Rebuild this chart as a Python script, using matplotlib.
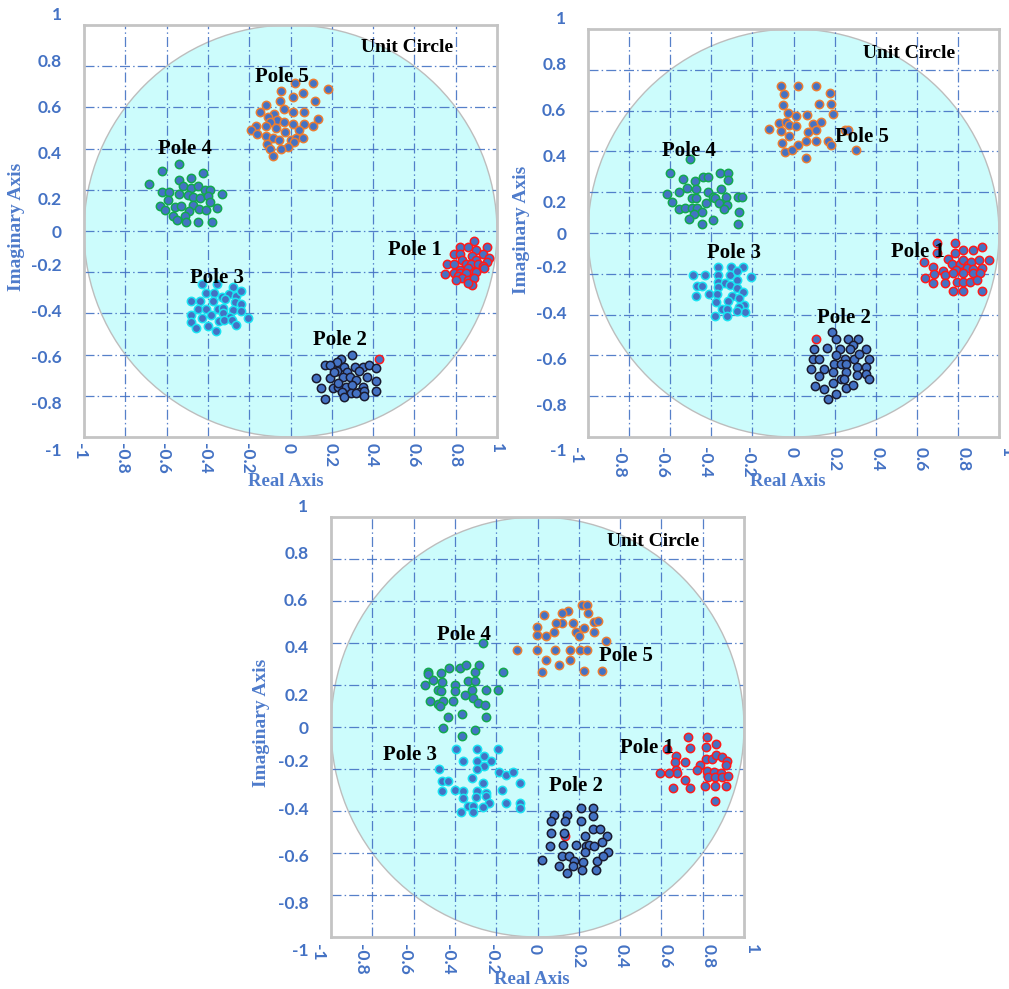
import numpy as np
import matplotlib
matplotlib.use("Agg")
import matplotlib.pyplot as plt
from matplotlib.patches import Circle

# pole locations (real, imag) for the three runs
run1_pole1 = [(0.89, -0.05), (0.82, -0.08), (0.86, -0.08), (0.95, -0.08), (0.79, -0.11), (0.82, -0.11),
              (0.90, -0.09), (0.93, -0.11), (0.88, -0.12), (0.83, -0.14), (0.90, -0.14), (0.96, -0.13),
              (0.95, -0.15), (0.76, -0.16), (0.79, -0.16), (0.85, -0.16), (0.875, -0.16), (0.91, -0.16),
              (0.93, -0.17), (0.82, -0.19), (0.86, -0.18), (0.89, -0.20), (0.935, -0.18), (0.75, -0.21),
              (0.79, -0.205), (0.82, -0.205), (0.85, -0.205), (0.90, -0.20), (0.81, -0.22), (0.83, -0.23),
              (0.86, -0.24), (0.89, -0.23), (0.80, -0.24), (0.88, -0.26), (0.86, -0.25), (0.43, -0.62)]
run1_pole2 = [(0.30, -0.60), (0.245, -0.62), (0.224, -0.636), (0.165, -0.65), (0.19, -0.65), (0.258, -0.66),
              (0.31, -0.66), (0.35, -0.66), (0.378, -0.65), (0.226, -0.68), (0.274, -0.684), (0.334, -0.678),
              (0.415, -0.667), (0.124, -0.712), (0.19, -0.712), (0.253, -0.707), (0.289, -0.71),
              (0.318, -0.723), (0.37, -0.707), (0.415, -0.73), (0.147, -0.76), (0.205, -0.76),
              (0.228, -0.756), (0.27, -0.757), (0.30, -0.748), (0.35, -0.756), (0.247, -0.78),
              (0.295, -0.786), (0.334, -0.78), (0.358, -0.775), (0.413, -0.775), (0.166, -0.814),
              (0.257, -0.807), (0.318, -0.785), (0.354, -0.80), (0.228, -0.74), (0.213, -0.683)]
run1_pole3 = [(-0.43, -0.257), (-0.355, -0.257), (-0.28, -0.27), (-0.41, -0.30), (-0.37, -0.30), (-0.33, -0.32),
              (-0.30, -0.306), (-0.266, -0.315), (-0.24, -0.29), (-0.484, -0.34), (-0.44, -0.34),
              (-0.373, -0.34), (-0.315, -0.33), (-0.27, -0.343), (-0.24, -0.354), (-0.45, -0.38),
              (-0.41, -0.38), (-0.35, -0.38), (-0.328, -0.375), (-0.28, -0.383), (-0.24, -0.39),
              (-0.484, -0.41), (-0.43, -0.42), (-0.384, -0.41), (-0.328, -0.40), (-0.295, -0.416),
              (-0.344, -0.435), (-0.32, -0.433), (-0.284, -0.43), (-0.207, -0.42), (-0.484, -0.44),
              (-0.40, -0.46), (-0.46, -0.47), (-0.363, -0.485), (-0.266, -0.456)]
run1_pole4 = [(-0.54, 0.325), (-0.62, 0.29), (-0.425, 0.28), (-0.54, 0.25), (-0.48, 0.255), (-0.686, 0.23),
              (-0.52, 0.22), (-0.48, 0.21), (-0.45, 0.22), (-0.62, 0.19), (-0.586, 0.19), (-0.54, 0.18),
              (-0.495, 0.175), (-0.415, 0.20), (-0.39, 0.20), (-0.33, 0.18), (-0.594, 0.15), (-0.473, 0.167),
              (-0.436, 0.16), (-0.40, 0.17), (-0.63, 0.12), (-0.557, 0.118), (-0.53, 0.12), (-0.473, 0.126),
              (-0.39, 0.14), (-0.607, 0.10), (-0.49, 0.096), (-0.445, 0.105), (-0.41, 0.10), (-0.355, 0.11),
              (-0.57, 0.073), (-0.51, 0.073), (-0.55, 0.053), (-0.447, 0.045), (-0.378, 0.045), (-0.505, 0.042)]
run1_pole5 = [(0.02, 0.72), (0.11, 0.72), (0.18, 0.69), (-0.045, 0.68), (0.06, 0.67), (0.01, 0.65), (0.12, 0.63),
              (-0.05, 0.63), (-0.12, 0.61), (-0.03, 0.59), (0.01, 0.58), (0.065, 0.58), (-0.15, 0.58),
              (-0.08, 0.57), (-0.11, 0.555), (-0.066, 0.54), (-0.03, 0.53), (0.134, 0.545), (-0.10, 0.53),
              (0.013, 0.52), (0.066, 0.52), (-0.12, 0.51), (-0.166, 0.51), (-0.068, 0.50), (-0.19, 0.49),
              (0.11, 0.51), (-0.026, 0.48), (0.039, 0.49), (-0.163, 0.47), (-0.118, 0.46), (-0.085, 0.45),
              (-0.057, 0.44), (0.0, 0.44), (0.029, 0.45), (0.06, 0.45), (0.019, 0.43), (-0.116, 0.42),
              (-0.01, 0.41), (-0.045, 0.40), (-0.10, 0.40), (-0.085, 0.365)]

run2_pole1 = [(0.697, -0.051), (0.70, -0.10), (0.787, -0.051), (0.786, -0.10), (0.826, -0.083), (0.875, -0.083),
              (0.916, -0.067), (0.637, -0.144), (0.68, -0.165), (0.75, -0.129), (0.77, -0.154), (0.81, -0.152),
              (0.826, -0.132), (0.848, -0.157), (0.864, -0.144), (0.901, -0.132), (0.953, -0.132),
              (0.729, -0.185), (0.791, -0.181), (0.843, -0.17), (0.875, -0.178), (0.919, -0.173),
              (0.64, -0.219), (0.684, -0.201), (0.739, -0.206), (0.778, -0.198), (0.826, -0.195),
              (0.872, -0.195), (0.907, -0.198), (0.794, -0.239), (0.826, -0.242), (0.859, -0.239),
              (0.891, -0.23), (0.68, -0.247), (0.737, -0.247), (0.778, -0.284), (0.826, -0.284),
              (0.919, -0.283), (0.109, -0.518)]
run2_pole2 = [(0.186, -0.485), (0.208, -0.52), (0.267, -0.52), (0.315, -0.52), (0.29, -0.549), (0.101, -0.567),
              (0.163, -0.564), (0.226, -0.57), (0.275, -0.57), (0.351, -0.57), (0.207, -0.598), (0.096, -0.619),
              (0.126, -0.618), (0.251, -0.619), (0.294, -0.619), (0.317, -0.595), (0.369, -0.619),
              (0.196, -0.644), (0.231, -0.642), (0.257, -0.642), (0.085, -0.667), (0.15, -0.668),
              (0.191, -0.68), (0.254, -0.68), (0.31, -0.659), (0.353, -0.659), (0.124, -0.699), (0.353, -0.69),
              (0.23, -0.717), (0.247, -0.717), (0.309, -0.696), (0.369, -0.714), (0.194, -0.737),
              (0.103, -0.75), (0.148, -0.766), (0.254, -0.761), (0.288, -0.747), (0.208, -0.788),
              (0.166, -0.814)]
run2_pole3 = [(-0.369, -0.168), (-0.306, -0.168), (-0.244, -0.168), (-0.488, -0.206), (-0.431, -0.206),
              (-0.369, -0.206), (-0.309, -0.206), (-0.273, -0.186), (-0.207, -0.217), (-0.471, -0.26),
              (-0.444, -0.26), (-0.366, -0.239), (-0.333, -0.247), (-0.309, -0.255), (-0.276, -0.23),
              (-0.366, -0.263), (-0.273, -0.271), (-0.244, -0.291), (-0.474, -0.309), (-0.41, -0.30),
              (-0.374, -0.30), (-0.301, -0.307), (-0.265, -0.317), (-0.377, -0.337), (-0.32, -0.332),
              (-0.241, -0.353), (-0.348, -0.374), (-0.322, -0.374), (-0.265, -0.361), (-0.236, -0.389),
              (-0.276, -0.382), (-0.384, -0.408), (-0.325, -0.408)]
run2_pole4 = [(-0.502, 0.364), (-0.60, 0.294), (-0.538, 0.265), (-0.478, 0.255), (-0.439, 0.276), (-0.418, 0.273),
              (-0.358, 0.293), (-0.317, 0.294), (-0.319, 0.26), (-0.517, 0.222), (-0.476, 0.214),
              (-0.351, 0.216), (-0.617, 0.191), (-0.556, 0.203), (-0.496, 0.173), (-0.476, 0.17), (-0.415, 0.2),
              (-0.39, 0.176), (-0.382, 0.17), (-0.327, 0.175), (-0.269, 0.175), (-0.252, 0.175), (-0.59, 0.15),
              (-0.424, 0.149), (-0.363, 0.149), (-0.556, 0.119), (-0.526, 0.123), (-0.496, 0.124),
              (-0.468, 0.124), (-0.325, 0.137), (-0.337, 0.116), (-0.447, 0.101), (-0.483, 0.092),
              (-0.267, 0.101), (-0.507, 0.07), (-0.39, 0.064), (-0.445, 0.044), (-0.269, 0.044)]
run2_pole5 = [(-0.061, 0.72), (0.023, 0.72), (0.109, 0.72), (0.179, 0.688), (-0.045, 0.68), (-0.05, 0.627),
              (0.122, 0.632), (0.181, 0.632), (-0.027, 0.587), (0.014, 0.575), (0.064, 0.58), (0.192, 0.583),
              (-0.069, 0.538), (-0.036, 0.543), (-0.022, 0.53), (0.014, 0.525), (0.093, 0.534), (0.135, 0.543),
              (-0.119, 0.51), (-0.062, 0.50), (0.069, 0.495), (0.111, 0.505), (-0.022, 0.475), (-0.054, 0.44),
              (0.02, 0.431), (0.059, 0.451), (0.111, 0.451), (0.166, 0.451), (0.182, 0.43), (-0.043, 0.397),
              (-0.007, 0.407), (0.062, 0.369), (0.25, 0.503), (0.267, 0.503), (0.306, 0.407)]

run3_pole1 = [(0.73, -0.048), (0.822, -0.048), (0.739, -0.099), (0.816, -0.096), (0.863, -0.083), (0.629, -0.104),
              (0.669, -0.14), (0.664, -0.167), (0.714, -0.167), (0.816, -0.152), (0.843, -0.152),
              (0.866, -0.131), (0.895, -0.144), (0.919, -0.163), (0.911, -0.179), (0.787, -0.183),
              (0.771, -0.204), (0.819, -0.21), (0.855, -0.215), (0.887, -0.218), (0.671, -0.204),
              (0.677, -0.218), (0.593, -0.218), (0.637, -0.218), (0.713, -0.25), (0.827, -0.239),
              (0.86, -0.239), (0.892, -0.239), (0.921, -0.231), (0.658, -0.291), (0.739, -0.291),
              (0.81, -0.279), (0.86, -0.279), (0.911, -0.279), (0.86, -0.35), (0.133, -0.517)]
run3_pole2 = [(0.209, -0.385), (0.27, -0.385), (0.081, -0.417), (0.144, -0.417), (0.27, -0.423), (0.064, -0.448),
              (0.132, -0.448), (0.209, -0.448), (0.27, -0.485), (0.303, -0.485), (0.064, -0.504),
              (0.128, -0.504), (0.23, -0.517), (0.338, -0.517), (0.059, -0.567), (0.122, -0.564),
              (0.185, -0.564), (0.235, -0.567), (0.251, -0.564), (0.274, -0.567), (0.314, -0.548),
              (0.232, -0.596), (0.341, -0.593), (0.023, -0.633), (0.12, -0.615), (0.151, -0.615),
              (0.177, -0.636), (0.219, -0.644), (0.287, -0.64), (0.319, -0.615), (0.106, -0.664),
              (0.17, -0.664), (0.214, -0.679), (0.285, -0.679), (0.144, -0.696)]
run3_pole3 = [(-0.396, -0.104), (-0.295, -0.104), (-0.193, -0.104), (-0.359, -0.164), (-0.291, -0.164),
              (-0.258, -0.14), (-0.227, -0.164), (-0.258, -0.187), (-0.295, -0.202), (-0.475, -0.202),
              (-0.188, -0.212), (-0.153, -0.228), (-0.117, -0.215), (-0.319, -0.244), (-0.461, -0.258),
              (-0.433, -0.258), (-0.262, -0.267), (-0.085, -0.267), (-0.40, -0.298), (-0.359, -0.306),
              (-0.291, -0.307), (-0.251, -0.313), (-0.173, -0.298), (-0.461, -0.307), (-0.359, -0.339),
              (-0.299, -0.331), (-0.251, -0.328), (-0.235, -0.361), (-0.335, -0.374), (-0.311, -0.374),
              (-0.264, -0.379), (-0.153, -0.361), (-0.085, -0.36), (-0.085, -0.387), (-0.372, -0.407),
              (-0.311, -0.407)]
run3_pole4 = [(-0.266, 0.399), (-0.529, 0.264), (-0.532, 0.253), (-0.467, 0.255), (-0.427, 0.28), (-0.375, 0.279),
              (-0.346, 0.294), (-0.303, 0.264), (-0.282, 0.296), (-0.169, 0.263), (-0.505, 0.225),
              (-0.464, 0.213), (-0.546, 0.202), (-0.40, 0.202), (-0.338, 0.218), (-0.303, 0.218),
              (-0.483, 0.174), (-0.467, 0.171), (-0.40, 0.171), (-0.316, 0.177), (-0.251, 0.177),
              (-0.19, 0.177), (-0.519, 0.126), (-0.48, 0.11), (-0.459, 0.126), (-0.411, 0.126),
              (-0.351, 0.153), (-0.314, 0.139), (-0.287, 0.115), (-0.253, 0.106), (-0.472, 0.098),
              (-0.432, 0.047), (-0.364, 0.063), (-0.251, 0.047), (-0.459, -0.004), (-0.301, -0.012),
              (-0.364, -0.045)]
run3_pole5 = [(0.214, 0.582), (0.238, 0.582), (0.146, 0.552), (0.117, 0.542), (0.033, 0.531), (0.117, 0.494),
              (0.09, 0.496), (0.172, 0.496), (0.246, 0.542), (-0.004, 0.477), (0.272, 0.502), (0.291, 0.503),
              (0.227, 0.471), (0.186, 0.452), (0.2, 0.433), (-0.004, 0.437), (0.04, 0.431), (0.08, 0.452),
              (0.272, 0.452), (0.332, 0.409), (-0.101, 0.369), (-0.004, 0.369), (0.083, 0.369), (0.157, 0.369),
              (0.204, 0.369), (0.24, 0.369), (0.04, 0.317), (0.157, 0.317), (0.106, 0.293), (0.02, 0.264),
              (0.227, 0.266), (0.312, 0.269)]

pole_names = ["Pole 1", "Pole 2", "Pole 3", "Pole 4", "Pole 5"]
edge_colors = ["#FF1A1A", "#1A1A2E", "#19E3F2", "#12A84E", "#ED7D31"]
tick_values = [-1, -0.8, -0.6, -0.4, -0.2, 0, 0.2, 0.4, 0.6, 0.8, 1]
tick_labels = ["-1", "-0.8", "-0.6", "-0.4", "-0.2", "0", "0.2", "0.4", "0.6", "0.8", "1"]
grid_values = [-0.8, -0.6, -0.4, -0.2, 0, 0.2, 0.4, 0.6, 0.8]

BLUE = "#4472C4"
SERIF = "Liberation Serif"
W, H = 1009, 989

fig = plt.figure(figsize=(W / 100, H / 100), dpi=100)


def frac(left, top, right, bottom):
    return [left / W, 1 - bottom / H, (right - left) / W, (bottom - top) / H]


def draw_run(poles, box, label_box, ypad, xpad, imag_xy, real_xy, label_xy):
    ax = fig.add_axes(frac(*box))
    ax.set_xlim(-1, 1)
    ax.set_ylim(-1, 1)
    ax.add_patch(Circle((0, 0), 1, facecolor="#CCFCFC", edgecolor="#BDBDBD", lw=1, zorder=0))
    ax.set_xticks(grid_values)
    ax.set_yticks(grid_values)
    ax.tick_params(length=0, labelbottom=False, labelleft=False)
    ax.grid(True, color=BLUE, lw=0.9, alpha=0.9, linestyle=(0, (8, 2.5, 1.2, 2.5)))
    ax.set_axisbelow(True)
    for sp in ax.spines.values():
        sp.set_color("#C4C4C4")
        sp.set_linewidth(2)

    for pts, ec in zip(poles, edge_colors):
        pts = np.array(pts)
        ax.scatter(pts[:, 0], pts[:, 1], s=36, facecolor=BLUE, edgecolor=ec, linewidth=1.1, zorder=3)

    for name, (x, y) in zip(pole_names + ["Unit Circle"], label_xy):
        ax.text(x, y, name, ha="left", va="center", fontsize=15 if name != "Unit Circle" else 14,
                fontweight="bold", family=SERIF, color="black", zorder=5)

    # tick labels sit on a separate frameless axes
    lab = fig.add_axes(frac(*label_box))
    lab.set_xlim(-1, 1)
    lab.set_ylim(-1, 1)
    lab.patch.set_visible(False)
    for sp in lab.spines.values():
        sp.set_visible(False)
    ypos = [np.sign(v) * (0.15 + (abs(v) - 0.2) * 1.0625) if v != 0 else 0 for v in tick_values]
    lab.set_yticks(ypos)
    lab.set_yticklabels(tick_labels)
    lab.set_xticks(tick_values)
    lab.set_xticklabels(tick_labels, rotation=-90)
    lab.tick_params(axis="y", length=0, pad=ypad, labelcolor=BLUE, labelsize=12.5)
    lab.tick_params(axis="x", length=0, pad=xpad, labelcolor=BLUE, labelsize=12.5)
    for t in lab.get_xticklabels() + lab.get_yticklabels():
        t.set_fontweight("bold")
        t.set_family("Lato")

    fig.text(imag_xy[0] / W, 1 - imag_xy[1] / H, "Imaginary Axis", rotation=90, ha="center", va="center",
             fontsize=14, fontweight="bold", family=SERIF, color="#4E7BCB")
    fig.text(real_xy[0] / W, 1 - real_xy[1] / H, "Real Axis", ha="center", va="center",
             fontsize=13.5, fontweight="bold", family=SERIF, color="#4E7BCB")


draw_run([run1_pole1, run1_pole2, run1_pole3, run1_pole4, run1_pole5],
         box=(84, 25, 497, 437), label_box=(80, 14, 497, 449), ypad=13, xpad=-4.5,
         imag_xy=(17, 227), real_xy=(286, 481),
         label_xy=[(0.47, -0.09), (0.11, -0.53), (-0.485, -0.23), (-0.64, 0.40), (-0.174, 0.75), (0.34, 0.89)])
draw_run([run2_pole1, run2_pole2, run2_pole3, run2_pole4, run2_pole5],
         box=(588, 29, 999, 437), label_box=(576, 18, 1007, 450), ypad=7, xpad=-2.5,
         imag_xy=(522, 230), real_xy=(788, 481),
         label_xy=[(0.474, -0.093), (0.114, -0.417), (-0.42, -0.098), (-0.64, 0.40), (0.20, 0.47), (0.338, 0.88)])
draw_run([run3_pole1, run3_pole2, run3_pole3, run3_pole4, run3_pole5],
         box=(331, 517, 744, 937), label_box=(318, 505, 752, 950), ypad=7, xpad=-4,
         imag_xy=(262, 723), real_xy=(532, 980),
         label_xy=[(0.40, -0.098), (0.056, -0.279), (-0.748, -0.131), (-0.487, 0.44), (0.298, 0.336), (0.336, 0.883)])

fig.savefig("out.png", dpi=100)
